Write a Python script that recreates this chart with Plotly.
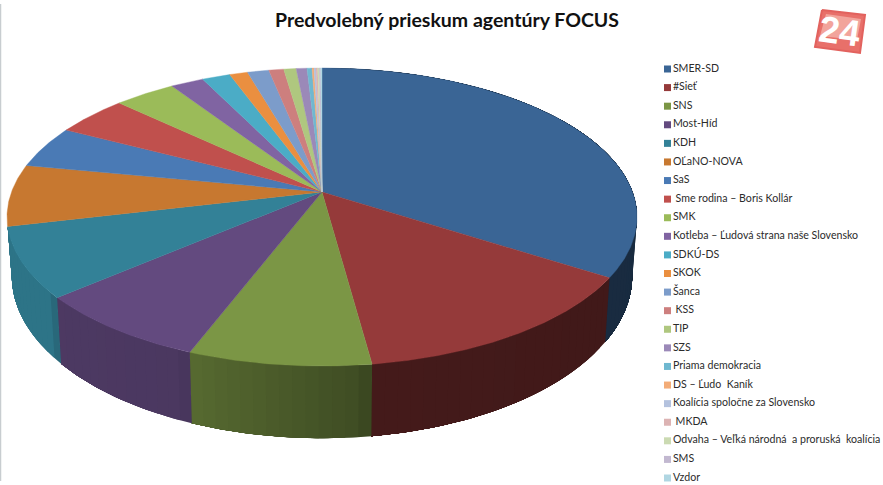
import numpy as np
import plotly.graph_objects as go

TITLE = "Predvolebný prieskum agentúry FOCUS"
parties = ["SMER-SD", "#Sieť", "SNS", "Most-Híd", "KDH", "OĽaNO-NOVA", "SaS",
           "\u00a0Sme rodina – Boris Kollár", "SMK", "Kotleba – Ľudová strana naše Slovensko",
           "SDKÚ-DS", "SKOK", "Šanca", "\u00a0KSS", "TIP", "SZS", "Priama demokracia",
           "DS – Ľudo  Kaník", "Koalícia spoločne za Slovensko", "\u00a0MKDA",
           "Odvaha – Veľká národná  a proruská  koalícia", "SMS", "Vzdor"]
support = [34.1, 13.8, 8.0, 7.9, 7.6, 6.7, 4.6, 4.4, 3.7, 2.0, 1.7, 1.1, 1.3,
           0.9, 0.75, 0.65, 0.3, 0.12, 0.12, 0.1, 0.1, 0.08, 0.08]
colors = ["#3a6595", "#953a3a", "#7b9645", "#634a7f", "#338197", "#c77830", "#4a7ab5",
          "#c0504d", "#9bbb59", "#8064a2", "#4bacc6", "#ea8f40", "#7c9cca", "#cd7f7e",
          "#afc77f", "#9b89b8", "#6fb8d0", "#f3ac77", "#b4c2de", "#dcb3b3", "#cbdab2",
          "#c2b8d0", "#b0d6e2"]

# Perspective geometry of the disc (pixel space of the hidden axes)
CX, CY, A, S, K = 322.0, 192.0, 310.5, 144.8, 0.168
WALL_XS, WALL_YC, WALL_YS = 0.985, 248.5, 1.09
SHADE_A = [90, 172, 175, 201, 203, 230, 232, 257, 360]
SHADE_F = [.42, .46, .52, .71, .76, .78, .90, .90, .90]


def top(theta):
    X, Y = np.sin(theta), np.cos(theta)
    w = 1 + K * Y
    return CX + A * X / w, CY - S * Y / w


def bottom(theta):
    x, y = top(theta)
    return CX + WALL_XS * (x - CX), WALL_YC + WALL_YS * (y - CY)


def shade(hexc, f):
    rgb = [int(hexc[i:i + 2], 16) for i in (1, 3, 5)]
    return "rgb(%d,%d,%d)" % tuple(int(c * f) for c in rgb)


fractions = np.array(support) / sum(support)
edges = np.concatenate([[0], np.cumsum(fractions)]) * 2 * np.pi

fig = go.Figure()

# side wall: each band paints from its start to the slice end, the next one overpaints it
for i in range(len(support)):
    a0, a1 = edges[i], edges[i + 1]
    if np.degrees(a0) > 250:
        continue
    n = max(2, int(np.degrees(a1 - a0) / 2))
    cuts = np.linspace(a0, a1, n + 1)
    for c0, c1 in zip(cuts[:-1], cuts[1:]):
        t = np.linspace(c0, a1, 40)
        tx, ty = top(t)
        bx, by = bottom(t)
        col = shade(colors[i], np.interp(np.degrees((c0 + c1) / 2), SHADE_A, SHADE_F))
        fig.add_trace(go.Scatter(x=np.r_[tx, bx[::-1]], y=np.r_[ty, by[::-1]], fill="toself",
                                 mode="lines", line=dict(color=col, width=0), fillcolor=col,
                                 hoverinfo="skip"))

# top face
for i, (name, val) in enumerate(zip(parties, support)):
    t = np.linspace(edges[i], edges[i + 1], max(3, int(np.degrees(edges[i + 1] - edges[i]) * 2)))
    x, y = top(t)
    fig.add_trace(go.Scatter(x=np.r_[CX, x, CX], y=np.r_[CY, y, CY], fill="toself", mode="lines",
                             line=dict(color=colors[i], width=0.4), fillcolor=colors[i],
                             name=name.strip(), text=f"{name.strip()}: {val}%", hoverinfo="text"))

# legend
rows = np.arange(len(parties))
fig.add_trace(go.Scatter(x=[667.5] * len(parties), y=69 + rows * (478 - 69) / 22,
                         mode="markers+text", text=parties, textposition="middle right",
                         textfont=dict(family="Lato, Carlito, sans-serif", size=10.6, color="#2b2b2b"),
                         marker=dict(symbol="square", size=7, color=colors), hoverinfo="skip"))

# "24" logo
logo_x, logo_y = [822, 865, 860, 815, 822], [10, 15, 53, 47, 10]
fig.add_trace(go.Scatter(x=logo_x, y=logo_y, fill="toself", mode="lines", fillcolor="#e8706a",
                         line=dict(color="#e2625e", width=2), hoverinfo="skip"))
inner_x, inner_y = [826, 861, 857, 820, 826], [14, 19, 40, 36, 14]
fig.add_trace(go.Scatter(x=inner_x, y=inner_y, fill="toself", mode="lines", fillcolor="#f2a49c",
                         line=dict(color="#f2a49c", width=0), hoverinfo="skip"))
fig.add_annotation(x=840, y=31, text="<b>24</b>", showarrow=False, textangle=8,
                   font=dict(family="Liberation Sans, sans-serif", size=37, color="#ffffff"))

fig.add_annotation(x=447, y=19.5, text=f"<b>{TITLE}</b>", showarrow=False,
                   font=dict(family="Lato, Carlito, sans-serif", size=19.5, color="#111111"))

fig.update_layout(width=883, height=485, margin=dict(l=0, r=0, t=0, b=0), showlegend=False,
                  paper_bgcolor="white", plot_bgcolor="white",
                  xaxis=dict(range=[0, 883], visible=False, fixedrange=True),
                  yaxis=dict(range=[485, 0], visible=False, fixedrange=True),
                  shapes=[dict(type="line", xref="x", yref="y", x0=0.5, x1=0.5, y0=4, y1=481,
                               line=dict(color="#c8cdd0", width=1.5))])
fig.write_html("out.html", config=dict(displayModeBar=False),
               post_script="document.body.style.margin='0';")
